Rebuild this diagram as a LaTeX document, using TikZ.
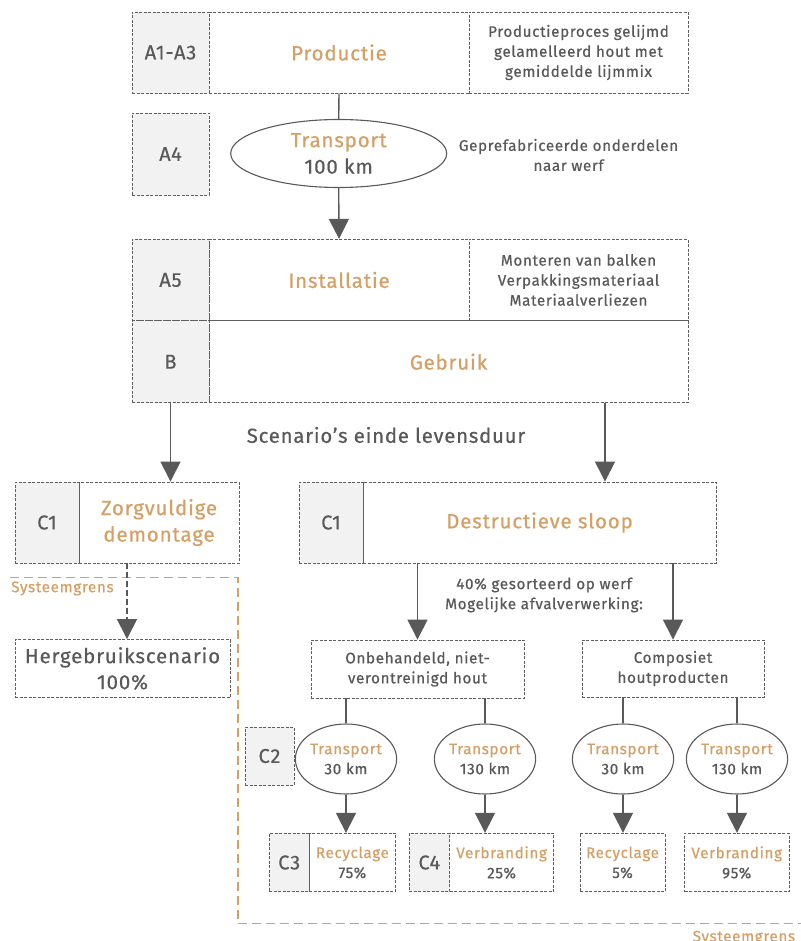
\documentclass[tikz,border=0pt]{standalone}
\usepackage{fontspec}
\setmainfont{Fira Sans}[LetterSpace=4, FakeBold=0.5]
\usetikzlibrary{arrows.meta,calc,shapes.geometric}

\definecolor{ink}{RGB}{89,89,89}
\definecolor{tan}{RGB}{212,160,102}
\definecolor{codefill}{RGB}{242,242,242}
\definecolor{edge}{RGB}{95,95,95}

\tikzset{
  frame/.style={rectangle, draw=edge, line width=0.9pt, dash pattern=on 3pt off 1.5pt,
                inner sep=0pt, align=center, text=ink},
  codebox/.style={frame, fill=codefill, font=\fontsize{20}{24}\selectfont},
  plainbox/.style={frame, fill=white},
  title/.style={text=tan, font=\fontsize{20.5}{26.5}\selectfont},
  note/.style={align=center, text=ink, font=\fontsize{15.3}{20}\selectfont},
  big/.style={align=center, text=ink, font=\fontsize{20.5}{26}\selectfont},
  small/.style={align=center, text=ink, font=\fontsize{15.3}{20}\selectfont},
  oval/.style={ellipse, draw=ink, line width=1.1pt, fill=white, inner sep=0pt, align=center},
  flow/.style={draw=ink, line width=1.4pt, -{Triangle[width=20pt,length=20pt]}},
  link/.style={draw=ink, line width=1.4pt},
  bound/.style={draw=tan, line width=1.5pt, dash pattern=on 9pt off 5pt},
  boundlabel/.style={text=tan, inner sep=0pt, font=\fontsize{15.3}{20}\selectfont},
}

\begin{document}
\begin{tikzpicture}[x=1pt,y=-1pt]
\useasboundingbox[fill=white] (0,0) rectangle (800,941);

% --- production
\node[plainbox, minimum width=260pt, minimum height=81pt, title] (pmain) at (339,52.5) {Productie};
\node[plainbox, minimum width=219pt, minimum height=81pt, note] (pnote) at (578.5,52.5)
  {Productieproces gelijmd\\gelamelleerd hout met\\gemiddelde lijmmix};
\node[codebox, minimum width=77pt, minimum height=81pt] (pcode) at (170.5,52.5) {A1-A3};

% --- transport to site
\node[codebox, minimum width=77pt, minimum height=82pt] (a4) at (170.5,154) {A4};
\node[oval, minimum width=216pt, minimum height=68pt, font=\fontsize{20.5}{26.5}\selectfont] (tr) at (338.7,153.5)
  {\textcolor{tan}{Transport}\\\textcolor{ink}{100 km}};
\node[note] (trnote) at (568.5,155) {Geprefabriceerde onderdelen\\naar werf};

% --- installation and use
\node[plainbox, minimum width=260pt, minimum height=81.4pt, title] (imain) at (339,280) {Installatie};
\node[plainbox, minimum width=219pt, minimum height=81.4pt, note] (inote) at (578.5,280)
  {Monteren van balken\\Verpakkingsmateriaal\\Materiaalverliezen};
\node[codebox, minimum width=77pt, minimum height=81.4pt] (icode) at (170.5,280) {A5};

\node[plainbox, minimum width=479pt, minimum height=82pt, title] (bmain) at (448.5,361.7) {Gebruik};
\node[codebox, minimum width=77pt, minimum height=82pt] (bcode) at (170.5,361.7) {B};

\node[big, font=\fontsize{20.3}{24}\selectfont] (eol) at (386,435) {Scenario’s einde levensduur};

% --- end of life: careful dismantling
\node[plainbox, minimum width=160pt, minimum height=81pt, title] (zmain) at (159,522.5) {Zorgvuldige\\demontage};
\node[codebox, minimum width=64pt, minimum height=81pt] (zcode) at (47,522.5) {C1};
\node[plainbox, minimum width=215pt, minimum height=58pt, big] (herg) at (122.5,668.5) {Hergebruikscenario\\100\%};

% --- end of life: destructive demolition
\node[plainbox, minimum width=353pt, minimum height=81pt, title] (dmain) at (539.5,522.5) {Destructieve sloop};
\node[codebox, minimum width=64pt, minimum height=81pt] (dcode) at (331,522.5) {C1};
\node[note] (sort) at (544,595) {40\% gesorteerd op werf\\Mogelijke afvalverwerking:};

\node[plainbox, minimum width=213pt, minimum height=58pt, small] (onb) at (417.5,669) {Onbehandeld, niet-\\verontreinigd hout};
\node[plainbox, minimum width=182pt, minimum height=57pt, small] (comp) at (673,668.5) {Composiet\\houtproducten};

% transport ellipses
\node[codebox, minimum width=49pt, minimum height=58pt] (c2) at (269.5,756) {C2};
\foreach \n/\x/\d in {t1/346/30, t2/485/130, t3/623/30, t4/737/130}
  \node[oval, minimum width=98pt, minimum height=70pt, font=\fontsize{15.3}{20}\selectfont] (\n) at (\x,759)
    {\textcolor{tan}{Transport}\\\textcolor{ink}{\d\ km}};

% processing results
\node[plainbox, minimum width=86.2pt, minimum height=58.4pt, small] (r1) at (352.4,862.5) {\textcolor{tan}{Recyclage}\\75\%};
\node[codebox, minimum width=40.3pt, minimum height=58.4pt] (r1code) at (289.2,862.5) {C3};
\node[plainbox, minimum width=104pt, minimum height=58.4pt, small] (r2) at (501.6,862.5) {\textcolor{tan}{Verbranding}\\25\%};
\node[codebox, minimum width=40.6pt, minimum height=58.4pt] (r2code) at (429.3,862.5) {C4};
\node[plainbox, minimum width=85pt, minimum height=58.4pt, small] (r3) at (622.5,862.5) {\textcolor{tan}{Recyclage}\\5\%};
\node[plainbox, minimum width=104.5pt, minimum height=58.4pt, small] (r4) at (736.75,862.5) {\textcolor{tan}{Verbranding}\\95\%};

% --- system boundary
\draw[bound] (10,577.7) -- (238,577.7) -- (238,923.3) -- (812,923.3);
\node[boundlabel, anchor=west] (sg1) at (11,588.5) {Systeemgrens};
\node[boundlabel, anchor=base west] (sg2) at (692.5,941.5) {Systeemgrens};

% --- connectors
\coordinate (xl) at (127,0);
\coordinate (xr) at (605,0);
\draw[link] (pmain.south) -- (tr.north);
\draw[flow] (tr.south) -- (imain.north);
\draw[flow] (bcode.south) -- (zmain.north -| bcode.south);
\draw[flow] (bmain.south -| xr) -- (dmain.north -| xr);
\draw[flow, dash pattern=on 6pt off 3pt] (zmain.south -| xl) -- (herg.north -| xl);
\draw[flow] (dmain.south -| onb.north) -- (onb.north);
\draw[flow] (dmain.south -| comp.north) -- (comp.north);
\draw[link] (onb.south -| t1.north) -- (t1.north);
\draw[link] (onb.south -| t2.north) -- (t2.north);
\draw[link] (comp.south -| t3.north) -- (t3.north);
\draw[link] (comp.south -| t4.north) -- (t4.north);
\foreach \n/\r in {t1/r1, t2/r2, t3/r3, t4/r4}
  \draw[flow] (\n.south) -- (\n.south |- \r.north);
\end{tikzpicture}
\end{document}
